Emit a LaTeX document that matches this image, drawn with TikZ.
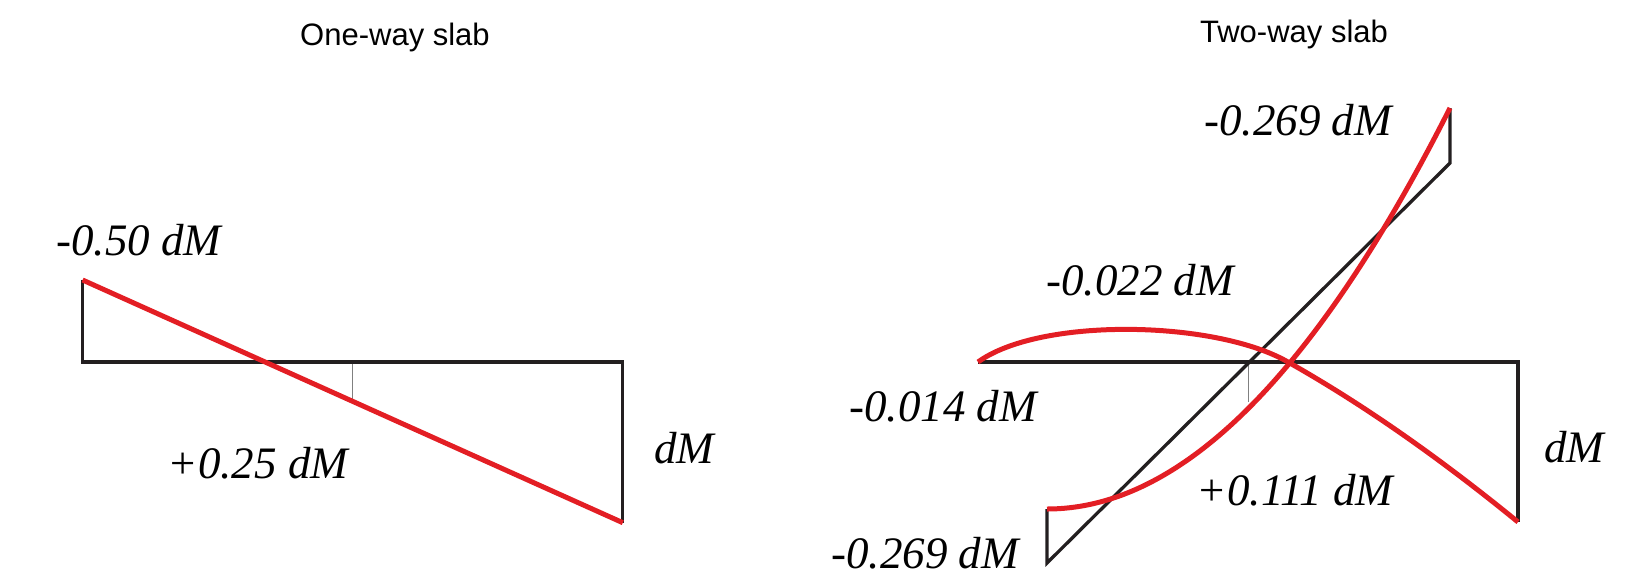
\documentclass[tikz,border=0pt]{standalone}
\usepackage{fontspec}
\setmainfont{Liberation Serif}
\newfontfamily\titlefont{Liberation Sans}
\definecolor{slabred}{HTML}{E31E24}
\definecolor{slabblack}{HTML}{231F20}

\begin{document}
\begin{tikzpicture}[x=1pt, y=-1pt,
		axis/.style={slabblack, line width=3.3pt},
		moment/.style={slabred, line width=5pt},
		tick/.style={gray, line width=0.8pt},
		val/.style={anchor=base, inner sep=0pt, font=\fontsize{45}{54}\selectfont\itshape},
		heading/.style={anchor=base, inner sep=0pt, font=\titlefont\fontsize{31}{37}\selectfont}]
		\useasboundingbox (0,0) rectangle (1650,582);
		\coordinate (oTop) at (82.6,280);
		\coordinate (oLeft) at (82.6,362);
		\coordinate (oRight) at (622.8,362);
		\coordinate (oLow) at (622.8,522.7);
		\coordinate (oMid) at (352.7,362);
		\coordinate (oMidLow) at (352.7,401);
		\draw [tick] (oMid) -- (oMidLow);
		\draw [axis] (oTop) -- (oLeft) -- (oRight) -- (oLow);
		\draw [moment] (oTop) -- (oLow);
		\node [heading] (oTitle) at (395,45.5) {One-way slab};
		\node [val] (oSup) at (139,255) {-0.50 dM};
		\node [val] (oSpan) at (258,478) {+0.25 dM};
		\node [val] (oEnd) at (684,463) {dM};
		\coordinate (tLeft) at (978,362);
		\coordinate (tRight) at (1518,362);
		\coordinate (tLow) at (1518,522);
		\coordinate (tCross) at (1288,362);
		\coordinate (tMid) at (1248,362);
		\coordinate (tMidLow) at (1248,402);
		\coordinate (dTop) at (1047,509);
		\coordinate (dBot) at (1047,563);
		\coordinate (dHigh) at (1450,163);
		\coordinate (dPeak) at (1450,108);
		\draw [tick] (tMid) -- (tMidLow);
		\draw [axis] (tLeft) -- (tRight) -- (tLow);
		\draw [axis] (dTop) -- (dBot) -- (dHigh) -- (dPeak);
		\draw [moment] (tLeft) .. controls (1040,317) and (1215,320) .. (tCross)
		.. controls (1366,406) and (1442,460) .. (tLow);
		\draw [moment] (dTop) .. controls (1181,509) and (1315,375) .. (dPeak);
		\node [heading] (tTitle) at (1294,42) {Two-way slab};
		\node [val] (tTop) at (1298,135) {-0.269 dM};
		\node [val] (tHog) at (1140,295) {-0.022 dM};
		\node [val] (tSag) at (943,421.5) {-0.014 dM};
		\node [val] (tSpan) at (1295,505) {+0.111 dM};
		\node [val] (tEnd) at (1574,462) {dM};
		\node [val] (tBot) at (925,568) {-0.269 dM};
		\end{tikzpicture}
\end{document}
